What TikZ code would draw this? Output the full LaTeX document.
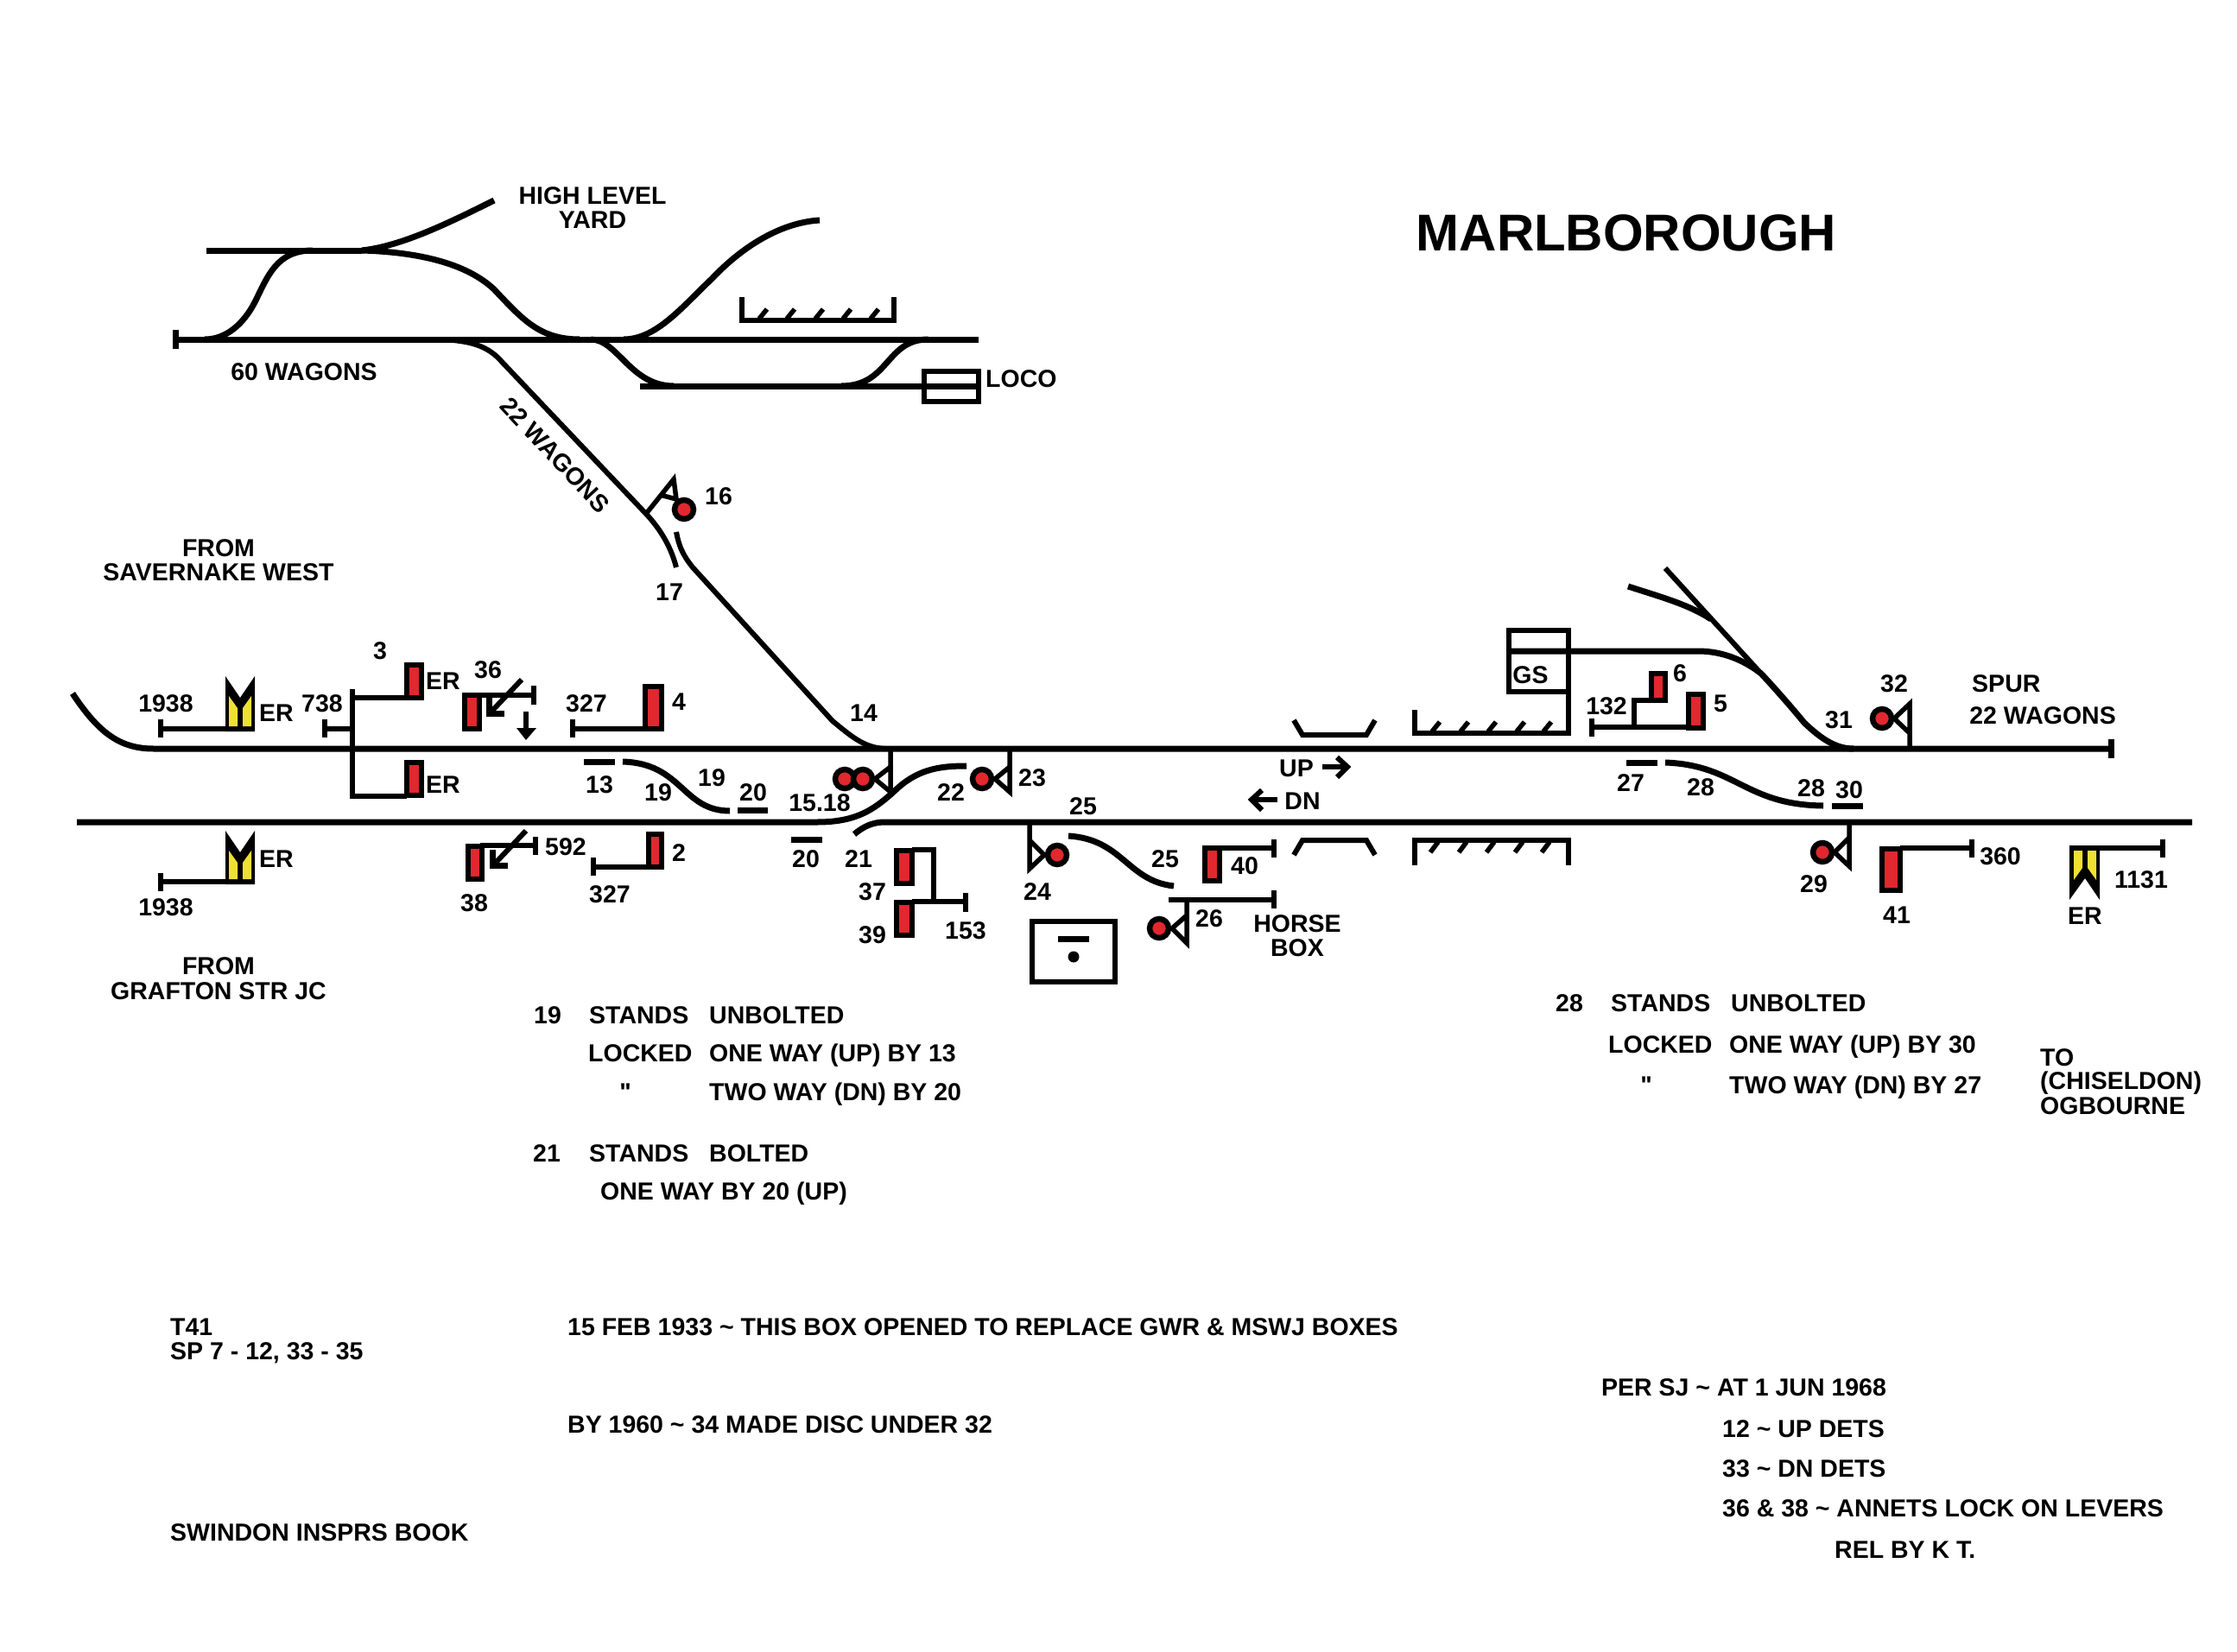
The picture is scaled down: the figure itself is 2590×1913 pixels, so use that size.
\documentclass[tikz,border=0pt]{standalone}
\usepackage{fontspec}
\setmainfont{Liberation Sans}
\newfontfamily\plainquote{Liberation Sans}
\definecolor{sigred}{HTML}{E0282E}
\definecolor{sigyel}{HTML}{EFE034}
\tikzset{
  trk/.style={line width=7pt,line cap=butt,line join=miter},
  thn/.style={line width=6pt,line cap=butt,line join=miter},
  hatch/.style={line width=5.5pt,line cap=butt},
  sigbox/.style={draw=black,fill=sigred,line width=6.5pt,line join=miter},
  disc/.style={circle,draw=black,fill=sigred,line width=6.5pt,minimum size=22pt,inner sep=0pt},
  lbl/.style={font=\fontsize{28.5}{30}\selectfont\bfseries,inner sep=0pt,text height=20.4pt,text depth=0pt},
  lft/.style={lbl,anchor=west},
}
\begin{document}
\begin{tikzpicture}[x=1pt,y=-1pt]
\useasboundingbox (0,0) rectangle (2590,1913);
\fill[white] (0,0) rectangle (2590,1913);

% ---- yard
\draw[trk] (203,393) -- (1133,393);
\draw[trk] (203,382) -- (203,404);
\draw[trk] (239,290) -- (419,290);
\draw[trk] (237,393) .. controls (262,393) and (282,375) .. (295,350) .. controls (310,320) and (320,290) .. (362,290);
\draw[trk] (419,290) .. controls (465,285) and (520,258) .. (572,232);
\draw[trk] (419,290) .. controls (485,292) and (540,305) .. (572,335) .. controls (605,370) and (625,393) .. (671,393);
\draw[trk] (722,393) .. controls (760,393) and (790,355) .. (824,323) .. controls (855,290) and (900,258) .. (949,255);
\draw[trk] (684,393) .. controls (715,393) and (730,447) .. (780,447);
\draw[trk] (974,447) .. controls (1030,447) and (1025,393) .. (1075,393);
\draw[trk] (741,447) -- (1136,447);
\draw[thn] (1070,430) rectangle (1133,465);
\draw[thn] (859,344) -- (859,371) -- (1035,371) -- (1035,344);
\foreach \x in {884,916,949,981,1013} \draw[hatch] (\x-5,369) -- (\x+4,358);

% ---- branch to the main line
\draw[thn] (512,393) .. controls (545,395) and (565,400) .. (582,420) -- (748,595) .. controls (762,610) and (776,630) .. (783,657);
\draw[thn] (783,616) .. controls (786,632) and (790,642) .. (802,657) -- (964,835) .. controls (985,852) and (1000,866) .. (1025,867);

% ---- running lines
\draw[trk] (84,803) .. controls (115,850) and (140,867) .. (178,867) -- (2446,867);
\draw[trk] (2444,856) -- (2444,878);
\draw[trk] (89,952) -- (946,952) .. controls (995,952) and (1015,935) .. (1040,912) .. controls (1065,890) and (1090,887) .. (1119,887);
\draw[trk] (989,966) .. controls (1000,957) and (1010,952) .. (1025,952) -- (2538,952);
\draw[trk] (676,882) -- (712,882);
\draw[trk] (721,882) .. controls (790,884) and (790,939) .. (845,939);
\draw[trk] (854,938) -- (889,938);
\draw[trk] (916,972) -- (952,972);
\draw[trk] (1237,968) .. controls (1300,972) and (1305,1020) .. (1359,1026);
\draw[trk] (1883,883) -- (1919,883);
\draw[trk] (1928,883) .. controls (2010,886) and (2020,932) .. (2111,933);
\draw[trk] (2121,933) -- (2157,933);

% ---- spur, goods shed
\draw[thn] (1928,658) -- (2039,780);
\draw[trk] (1885,679) .. controls (1925,692) and (1955,700) .. (1981,717);
\draw[thn] (1747,730) rectangle (1816,801);
\draw[trk] (1744,754) -- (1966,754) .. controls (1995,754) and (2020,765) .. (2039,780) .. controls (2055,797) and (2075,820) .. (2089,837) .. controls (2108,855) and (2125,867) .. (2146,867);
\draw[thn] (1638,822) -- (1638,849) -- (1816,849) -- (1816,803);
\draw[thn] (1638,1002) -- (1638,973) -- (1816,973) -- (1816,1002);
\foreach \x in {1663,1696,1728,1761,1792} \draw[hatch] (\x-5,847) -- (\x+4,836);
\foreach \x in {1660,1693,1725,1758,1789} \draw[hatch] (\x-4,987) -- (\x+5,975);

% ---- platforms
\draw[thn] (1498,834) -- (1508,851) -- (1582,851) -- (1592,834);
\draw[thn] (1498,990) -- (1508,973) -- (1582,973) -- (1592,990);

% ---- signal 3 / ER / 738
\draw[line width=5.5pt] (408,798) -- (408,922) -- (471,922);
\draw[line width=5.5pt] (408,808) -- (471,808);
\draw[line width=5.5pt] (376,833) -- (376,854);
\draw[line width=5.5pt] (376,844) -- (408,844);
\draw[sigbox] (471,770) rectangle (488,808);
\draw[sigbox] (471,883) rectangle (488,921);

% ---- distant signals
\draw[thn] (186,833) -- (186,854);
\draw[thn] (186,844) -- (262,844);
\fill (261,783) -- (278,808) -- (295,783) -- (295,847) -- (261,847) -- cycle;
\fill[sigyel] (265,806) -- (275,820) -- (275,841) -- (265,841) -- cycle;
\fill[sigyel] (281,820) -- (291,806) -- (291,841) -- (281,841) -- cycle;
\draw[thn] (186,1011) -- (186,1032);
\draw[thn] (186,1021) -- (262,1021);
\fill (261,962) -- (278,987) -- (295,962) -- (295,1024) -- (261,1024) -- cycle;
\fill[sigyel] (265,985) -- (275,999) -- (275,1018) -- (265,1018) -- cycle;
\fill[sigyel] (281,999) -- (291,985) -- (291,1018) -- (281,1018) -- cycle;
\draw[thn] (2504,972) -- (2504,993);
\draw[thn] (2504,982) -- (2430,982);
\fill (2396,979) -- (2431,979) -- (2431,1042) -- (2414,1017) -- (2396,1042) -- cycle;
\fill[sigyel] (2401,985) -- (2411,985) -- (2411,1005) -- (2401,1019) -- cycle;
\fill[sigyel] (2417,985) -- (2427,985) -- (2427,1019) -- (2417,1005) -- cycle;

% ---- signal 36 + arrows
\draw[thn] (618,794) -- (618,816);
\draw[thn] (552,805) -- (618,805);
\draw[sigbox] (538,805) rectangle (555,844);
\draw[thn] (604,787) -- (567,826);
\draw[line width=7pt] (566,808) -- (566,826) -- (584,826);
\draw[thn] (609,824) -- (609,846);
\fill (598,843) -- (621,843) -- (609,857) -- cycle;

% ---- signal 38
\draw[thn] (620,969) -- (620,990);
\draw[thn] (556,979) -- (620,979);
\draw[sigbox] (542,980) rectangle (558,1018);
\draw[thn] (609,962) -- (571,1002);
\draw[line width=7pt] (570,984) -- (570,1002) -- (588,1002);

% ---- signals 4, 2
\draw[thn] (663,833) -- (663,854);
\draw[thn] (663,844) -- (748,844);
\draw[sigbox] (747,795) rectangle (766,844);
\draw[thn] (687,993) -- (687,1014);
\draw[thn] (687,1004) -- (750,1004);
\draw[sigbox] (751,966) rectangle (766,1004);

% ---- 37 / 39 / 153
\draw[sigbox] (1038,985) rectangle (1056,1023);
\draw[sigbox] (1038,1045) rectangle (1056,1083);
\draw[thn] (1056,984) -- (1081,984) -- (1081,1044);
\draw[thn] (1056,1044) -- (1118,1044);
\draw[thn] (1118,1034) -- (1118,1056);

% ---- signal 40, 41, 5, 6
\draw[sigbox] (1395,982) rectangle (1412,1020);
\draw[thn] (1412,982) -- (1475,982);
\draw[thn] (1475,972) -- (1475,993);
\draw[sigbox] (2179,983) rectangle (2200,1031);
\draw[thn] (2200,982) -- (2283,982);
\draw[thn] (2283,972) -- (2283,993);
\draw[thn] (1843,832) -- (1843,853);
\draw[thn] (1843,842) -- (1955,842);
\draw[sigbox] (1955,804) rectangle (1972,843);
\draw[line width=5.5pt] (1892,842) -- (1892,811) -- (1912,811);
\draw[sigbox] (1912,780) rectangle (1928,811);

% ---- disc signals
\draw[line width=5.5pt] (1031,867) -- (1031,917) -- (1013,902) -- (1031,888);
\node[disc] (d15) at (978,902) {};
\node[disc] (d18) at (999,902) {};
\draw[line width=5.5pt] (1169,867) -- (1169,917) -- (1152,902) -- (1169,888);
\node[disc] (d23) at (1137,902) {};
\draw[line width=5.5pt] (1192,952) -- (1192,1006) -- (1209,990) -- (1192,973);
\node[disc] (d24) at (1224,990) {};
\draw[thn] (1353,1042) -- (1475,1042);
\draw[thn] (1475,1031) -- (1475,1052);
\draw[line width=5.5pt] (1374,1042) -- (1374,1092) -- (1357,1075) -- (1374,1060);
\node[disc] (d26) at (1342,1075) {};
\draw[line width=5.5pt] (2211,867) -- (2211,815) -- (2193,832) -- (2211,849);
\node[disc] (d32) at (2179,832) {};
\draw[line width=5.5pt] (2141,952) -- (2141,1003) -- (2124,987) -- (2141,970);
\node[disc] (d29) at (2110,987) {};
\draw[line width=5.5pt] (748,595) -- (780,555) -- (783,578) -- (764,573);
\node[disc] (d16) at (792,590) {};

% ---- ground frame
\draw[thn] (1195,1067) rectangle (1291,1137);
\draw[trk] (1225,1087) -- (1261,1087);
\fill (1243,1108) circle (6.5pt);

% ---- UP / DN arrows
\draw[thn] (1531,888) -- (1558,888);
\draw[thn] (1548,877) -- (1560,888) -- (1548,900);
\draw[thn] (1479,926) -- (1451,926);
\draw[thn] (1461,915) -- (1449,926) -- (1461,938);

% ---- labels
\node[lbl,font=\fontsize{60}{62}\selectfont\bfseries,text height=43pt] (title) at (1883,269) {MARLBOROUGH};
\node[lbl] (hl1) at (686,226) {HIGH LEVEL};
\node[lbl] (hl2) at (686,254) {YARD};
\node[lbl] (w60) at (352,430) {60 WAGONS};
\node[lbl,rotate=-47] (w22) at (643,527) {22 WAGONS};
\node[lft] (loco) at (1141,438) {LOCO};
\node[lbl] (n16) at (832,574) {16};
\node[lbl] (n17) at (775,685) {17};
\node[lbl] (f1) at (253,634) {FROM};
\node[lbl] (f2) at (253,662) {SAVERNAKE WEST};
\node[lbl] (g1) at (253,1118) {FROM};
\node[lbl] (g2) at (253,1147) {GRAFTON STR JC};
\node[lbl] (a1) at (192,814) {1938};
\node[lbl] (a2) at (320,825) {ER};
\node[lbl] (a3) at (373,814) {738};
\node[lbl] (a4) at (440,753) {3};
\node[lbl] (a5) at (513,788) {ER};
\node[lbl] (a6) at (513,908) {ER};
\node[lbl] (a7) at (565,775) {36};
\node[lbl] (a8) at (679,814) {327};
\node[lbl] (a9) at (786,812) {4};
\node[lbl] (b1) at (694,908) {13};
\node[lbl] (b2) at (762,917) {19};
\node[lbl] (b3) at (824,900) {19};
\node[lbl] (b4) at (872,917) {20};
\node[lbl] (b5) at (949,929) {15.18};
\node[lbl] (b6) at (192,1050) {1938};
\node[lbl] (b7) at (320,994) {ER};
\node[lbl] (b8) at (655,980) {592};
\node[lbl] (b9) at (549,1045) {38};
\node[lbl] (c1) at (786,987) {2};
\node[lbl] (c2) at (706,1035) {327};
\node[lbl] (c3) at (933,994) {20};
\node[lbl] (c4) at (994,994) {21};
\node[lbl] (c5) at (1000,825) {14};
\node[lbl] (c6) at (1195,900) {23};
\node[lbl] (c7) at (1101,917) {22};
\node[lbl] (c8) at (1254,933) {25};
\node[lbl] (c9) at (1201,1032) {24};
\node[lbl] (d1) at (1349,994) {25};
\node[lbl] (d2) at (1441,1002) {40};
\node[lbl] (d3) at (1400,1063) {26};
\node[lbl] (d4) at (1502,1069) {HORSE};
\node[lbl] (d5) at (1502,1097) {BOX};
\node[lbl] (d6) at (1010,1032) {37};
\node[lbl] (d7) at (1010,1082) {39};
\node[lbl] (d8) at (1118,1077) {153};
\node[lbl] (d9) at (1501,889) {UP};
\node[lbl] (e1) at (1508,927) {DN};
\node[lbl] (e2) at (1772,781) {GS};
\node[lbl] (e3) at (1860,817) {132};
\node[lbl] (e4) at (1945,779) {6};
\node[lbl] (e5) at (1992,814) {5};
\node[lbl] (e6) at (2129,833) {31};
\node[lbl] (e7) at (2193,791) {32};
\node[lft] (e8) at (2283,791) {SPUR};
\node[lbl] (e9) at (2365,828) {22 WAGONS};
\node[lbl] (h1) at (1888,906) {27};
\node[lbl] (h2) at (1969,911) {28};
\node[lbl] (h3) at (2097,912) {28};
\node[lbl] (h4) at (2141,914) {30};
\node[lbl] (h5) at (2100,1023) {29};
\node[lbl] (h6) at (2196,1059) {41};
\node[lbl] (h7) at (2316,991) {360};
\node[lbl] (h8) at (2414,1060) {ER};
\node[lbl] (h9) at (2479,1018) {1131};

% ---- notes
\node[lbl] (p1) at (634,1175) {19};
\node[lft] (p2) at (682,1175) {STANDS};
\node[lft] (p3) at (821,1175) {UNBOLTED};
\node[lft] (p4) at (681,1219) {LOCKED};
\node[lft] (p5) at (821,1219) {ONE WAY (UP) BY 13};
\node[lbl] (p6) at (724,1264) {\plainquote "};
\node[lft] (p7) at (821,1264) {TWO WAY (DN) BY 20};
\node[lbl] (p8) at (633,1335) {21};
\node[lft] (p9) at (682,1335) {STANDS};
\node[lft] (q1) at (821,1335) {BOLTED};
\node[lft] (q2) at (695,1379) {ONE WAY BY 20 (UP)};
\node[lbl] (r1) at (1817,1161) {28};
\node[lft] (r2) at (1865,1161) {STANDS};
\node[lft] (r3) at (2004,1161) {UNBOLTED};
\node[lft] (r4) at (1862,1209) {LOCKED};
\node[lft] (r5) at (2002,1209) {ONE WAY (UP) BY 30};
\node[lbl] (r6) at (1906,1256) {\plainquote "};
\node[lft] (r7) at (2002,1256) {TWO WAY (DN) BY 27};
\node[lft] (s1) at (2362,1224) {TO};
\node[lft] (s2) at (2362,1251) {(CHISELDON)};
\node[lft] (s3) at (2362,1280) {OGBOURNE};
\node[lft] (u1) at (197,1536) {T41};
\node[lft] (u2) at (197,1564) {SP 7 - 12, 33 - 35};
\node[lft] (u3) at (657,1536) {15 FEB 1933 \textasciitilde{} THIS BOX OPENED TO REPLACE GWR \& MSWJ BOXES};
\node[lft] (u4) at (657,1649) {BY 1960 \textasciitilde{} 34 MADE DISC UNDER 32};
\node[lft] (u5) at (197,1774) {SWINDON INSPRS BOOK};
\node[lft] (v1) at (1854,1606) {PER SJ \textasciitilde{} AT 1 JUN 1968};
\node[lft] (v2) at (1994,1654) {12 \textasciitilde{} UP DETS};
\node[lft] (v3) at (1994,1700) {33 \textasciitilde{} DN DETS};
\node[lft] (v4) at (1994,1746) {36 \& 38 \textasciitilde{} ANNETS LOCK ON LEVERS};
\node[lft] (v5) at (2124,1794) {REL BY K T.};
\end{tikzpicture}
\end{document}
